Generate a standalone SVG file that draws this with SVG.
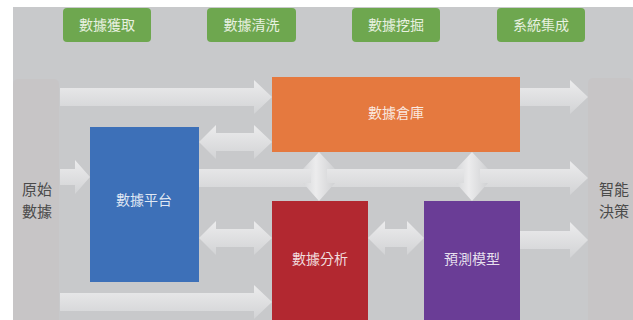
<svg xmlns="http://www.w3.org/2000/svg" width="633" height="320" viewBox="0 0 633 320">
  <defs>
    <linearGradient id="gh" x1="0" y1="0" x2="0" y2="1">
      <stop offset="0" stop-color="#ececed"/>
      <stop offset="1" stop-color="#d2d3d5"/>
    </linearGradient>
    <linearGradient id="gv" x1="0" y1="0" x2="1" y2="0">
      <stop offset="0" stop-color="#d6d7d9"/>
      <stop offset="0.4" stop-color="#ececed"/>
      <stop offset="1" stop-color="#d0d1d3"/>
    </linearGradient>
    <style>
      .ah { fill: url(#gh); }
      .av { fill: url(#gv); }
      .tag rect { fill: #6ea74f; }
      .tag text { font-family: "Noto Sans CJK TC", "Noto Sans CJK SC", sans-serif; font-size: 14px; fill: #e8f1e0; text-anchor: middle; }
      .node text { font-family: "Noto Sans CJK TC", "Noto Sans CJK SC", sans-serif; font-size: 14px; fill: #ffffff; fill-opacity: 0.85; text-anchor: middle; }
      .side { font-family: "Noto Sans CJK TC", "Noto Sans CJK SC", sans-serif; font-size: 15px; fill: #4a4a4a; text-anchor: middle; }
      .pillar { fill: #c7c5c6; }
    </style>
  </defs>

  <rect x="13" y="7" width="620" height="313" fill="#c8c9cb"/>

  <g id="tag-acquire" class="tag"><rect x="63" y="8" width="88" height="34" rx="4"/><text x="107" y="30">數據獲取</text></g>
  <g id="tag-clean" class="tag"><rect x="207" y="8" width="89" height="34" rx="4"/><text x="251.5" y="30">數據清洗</text></g>
  <g id="tag-mine" class="tag"><rect x="352" y="8" width="88" height="34" rx="4"/><text x="396" y="30">數據挖掘</text></g>
  <g id="tag-integrate" class="tag"><rect x="497" y="8" width="88" height="34" rx="4"/><text x="541" y="30">系統集成</text></g>

  <g id="raw-data">
    <rect class="pillar" x="13" y="79" width="46" height="250" rx="5"/>
    <text class="side" x="37" y="195">原始</text>
    <text class="side" x="37" y="217">數據</text>
  </g>
  <g id="decision">
    <rect class="pillar" x="588" y="78" width="45" height="250" rx="5"/>
    <text class="side" x="614" y="195">智能</text>
    <text class="side" x="614" y="217">決策</text>
  </g>

  <g id="connectors">
    <path class="ah" d="M60,88 H254 V80 L272,97 L254,114 V106 H60 Z"/>
    <path class="ah" d="M520,88 H570 V80 L588,97 L570,114 V106 H520 Z"/>
    <path class="ah" d="M60,169 H75 V160 L90,177 L75,194 V185 H60 Z"/>
    <path class="ah" d="M199,169 H570 V161 L588,178 L570,195 V187 H199 Z"/>
    <path class="ah" d="M199,142 L216,125 V133 H254 V125 L272,142 L254,159 V151 H216 V159 Z"/>
    <path class="ah" d="M199,238 L216,221 V229 H254 V221 L272,238 L254,255 V247 H216 V255 Z"/>
    <path class="ah" d="M368,238 L385,221 V229 H407 V221 L424,238 L407,255 V247 H385 V255 Z"/>
    <path class="ah" d="M520,231 H570 V222 L588,240 L570,258 V249 H520 Z"/>
    <path class="ah" d="M60,293 H254 V285 L272,302 L254,319 V311 H60 Z"/>
    <path class="av" d="M319,152 L335,169 H327 V183 H335 L319,201 L303,183 H311 V169 H303 Z"/>
    <path class="av" d="M472,152 L488,169 H480 V183 H488 L472,201 L456,183 H464 V169 H456 Z"/>
  </g>

  <g id="warehouse" class="node"><rect x="272" y="77" width="248" height="75" fill="#e5793f"/><text x="396" y="118">數據倉庫</text></g>
  <g id="platform" class="node"><rect x="90" y="127" width="109" height="155" fill="#3d70b8"/><text x="144" y="205">數據平台</text></g>
  <g id="analysis" class="node"><rect x="272" y="201" width="96" height="119" fill="#b22830"/><text x="320" y="264">數據分析</text></g>
  <g id="model" class="node"><rect x="424" y="201" width="96" height="119" fill="#6a3d96"/><text x="472" y="264">預測模型</text></g>
</svg>
